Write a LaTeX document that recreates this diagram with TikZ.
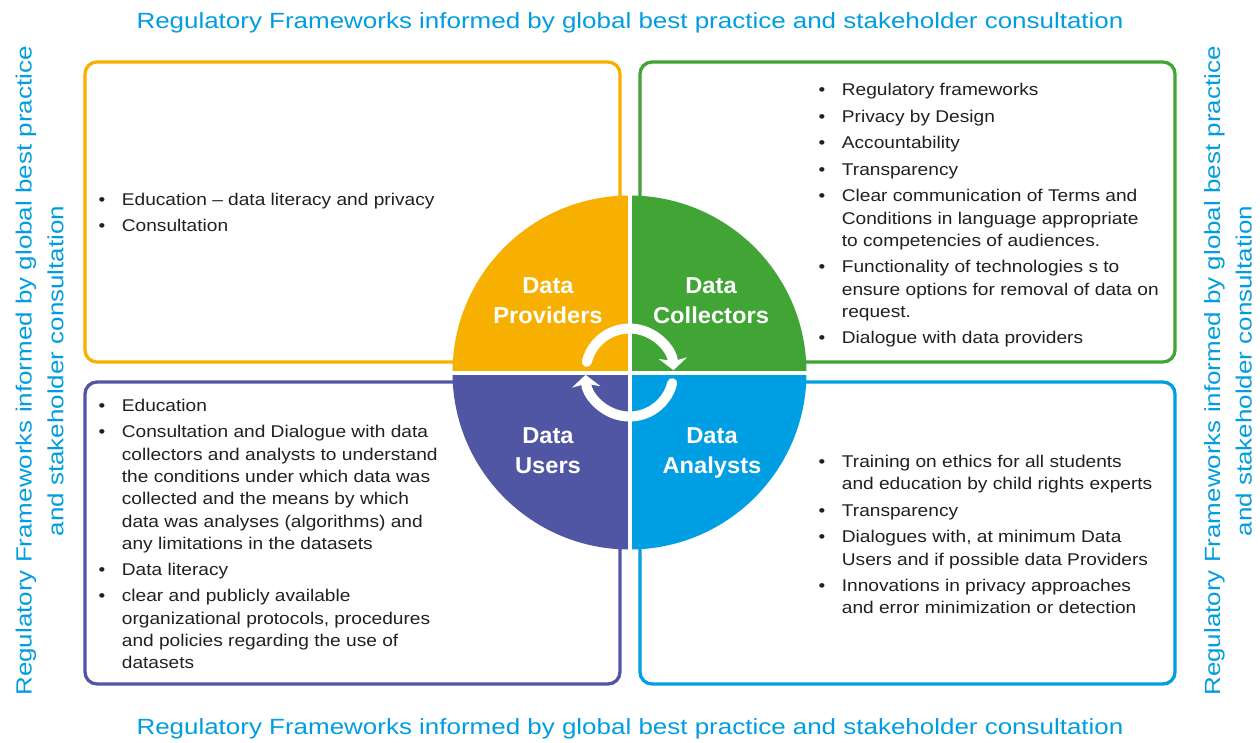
\documentclass[tikz,border=0pt]{standalone}
\usepackage{fontspec}
\setmainfont{Liberation Sans}
\newfontfamily\bodyfont[FakeStretch=1.125]{Liberation Sans}
\newfontfamily\framefont[FakeStretch=1.18]{Liberation Sans}
\newfontfamily\rolefont[FakeStretch=1.03]{Liberation Sans}
\usetikzlibrary{arrows.meta}

\definecolor{provider}{RGB}{248,176,0}
\definecolor{collector}{RGB}{64,165,53}
\definecolor{user}{RGB}{80,86,163}
\definecolor{analyst}{RGB}{0,159,227}
\definecolor{frametext}{RGB}{0,158,224}
\definecolor{bodytext}{RGB}{35,31,32}

% bullet lists with hanging indent and hand-set line breaks
\newlength\itemgap
\newcommand\bitem[1]{\par\hangindent=23.3pt\hangafter=1\noindent\makebox[23.3pt][l]{\textbullet}#1}
\newcommand\nextitem{\par\vskip\itemgap}
\newcommand\nl{\hfil\break}
\newcommand\itemblock[3]{\fontsize{17}{#1}\selectfont\setlength\itemgap{#2}%
  \vtop{\hsize=430pt\parindent=0pt\parskip=0pt\rightskip=0pt plus 1fil\relax #3\par}}

\begin{document}
\begin{tikzpicture}[x=1pt, y=-1pt,
  box/.style={draw, line width=3.3pt, rounded corners=12pt, minimum width=535pt, inner sep=0pt},
  bodytxt/.style={anchor=base west, inner sep=0pt, text=bodytext, font=\bodyfont},
  role/.style={anchor=base, inner sep=0pt, text=white, font=\rolefont\bfseries\fontsize{23}{30}\selectfont},
  frame/.style={anchor=base, inner sep=0pt, text=frametext, font=\framefont\fontsize{22}{31.6}\selectfont},
  divider/.style={white, line width=4pt},
  cyc/.style={white, line width=10pt, line cap=round, -{Stealth[length=12pt, width=28pt, inset=3pt]}}]

\useasboundingbox (0,0) rectangle (1260,742);
\fill[white] (0,0) rectangle (1260,742);

% four framed panels
\node[box, draw=provider, minimum height=300pt] (tlbox) at (352.5,212) {};
\node[box, draw=collector, minimum height=300pt] (trbox) at (907.5,212) {};
\node[box, draw=user, minimum height=302pt] (blbox) at (352.5,533) {};
\node[box, draw=analyst, minimum height=302pt] (brbox) at (907.5,533) {};

% central disc in four quadrants
\coordinate (c) at (629.5,372.5);
\fill[provider] (c) -- ([shift={(180:177)}]c) arc[start angle=180, end angle=270, radius=177] -- cycle;
\fill[collector] (c) -- ([shift={(270:177)}]c) arc[start angle=270, end angle=360, radius=177] -- cycle;
\fill[analyst] (c) -- ([shift={(0:177)}]c) arc[start angle=0, end angle=90, radius=177] -- cycle;
\fill[user] (c) -- ([shift={(90:177)}]c) arc[start angle=90, end angle=180, radius=177] -- cycle;
\draw[divider] ([shift={(0,-178)}]c) -- ([shift={(0,178)}]c);
\draw[divider] ([shift={(-178,0)}]c) -- ([shift={(178,0)}]c);

% clockwise cycle arrows
\draw[cyc] ([shift={(-166:44)}]c) arc[start angle=-166, end angle=-3, radius=44];
\draw[cyc] ([shift={(14:44)}]c) arc[start angle=14, end angle=177, radius=44];

% quadrant titles
\node[role] (prov) at (548,293.5) {\begin{tabular}[t]{@{}c@{}}Data\\Providers\end{tabular}};
\node[role] (coll) at (711,293.5) {\begin{tabular}[t]{@{}c@{}}Data\\Collectors\end{tabular}};
\node[role] (usr) at (548,443.3) {\begin{tabular}[t]{@{}c@{}}Data\\Users\end{tabular}};
\node[role] (anl) at (712,443.3) {\begin{tabular}[t]{@{}c@{}}Data\\Analysts\end{tabular}};

% surrounding frame captions
\node[frame] (ftop) at (630,28.3) {Regulatory Frameworks informed by global best practice and stakeholder consultation};
\node[frame] (fbot) at (630,734) {Regulatory Frameworks informed by global best practice and stakeholder consultation};
\node[frame, rotate=90] (fleft) at (31.7,371) {\begin{tabular}[t]{@{}c@{}}Regulatory Frameworks informed by global best practice\\and stakeholder consultation\end{tabular}};
\node[frame, rotate=90] (fright) at (1220,371) {\begin{tabular}[t]{@{}c@{}}Regulatory Frameworks informed by global best practice\\and stakeholder consultation\end{tabular}};

% panel contents
\node[bodytxt] (tltext) at (98.4,205) {\itemblock{22pt}{4pt}{%
  \bitem{Education – data literacy and privacy}\nextitem
  \bitem{Consultation}}};

\node[bodytxt] (trtext) at (818.4,95.7) {\itemblock{22.3pt}{4.2pt}{%
  \bitem{Regulatory frameworks}\nextitem
  \bitem{Privacy by Design}\nextitem
  \bitem{Accountability}\nextitem
  \bitem{Transparency}\nextitem
  \bitem{Clear communication of Terms and\nl Conditions in language appropriate\nl to competencies of audiences.}\nextitem
  \bitem{Functionality of technologies s to\nl ensure options for removal of data on\nl request.}\nextitem
  \bitem{Dialogue with data providers}}};

\node[bodytxt] (bltext) at (98.4,411.5) {\itemblock{22.3pt}{4pt}{%
  \bitem{Education}\nextitem
  \bitem{Consultation and Dialogue with data\nl collectors and analysts to understand\nl the conditions under which data was\nl collected and the means by which\nl data was analyses (algorithms) and\nl any limitations in the datasets}\nextitem
  \bitem{Data literacy}\nextitem
  \bitem{clear and publicly available\nl organizational protocols, procedures\nl and policies regarding the use of\nl datasets}}};

\node[bodytxt] (brtext) at (818.4,467.5) {\itemblock{22.3pt}{4.2pt}{%
  \bitem{Training on ethics for all students\nl and education by child rights experts}\nextitem
  \bitem{Transparency}\nextitem
  \bitem{Dialogues with, at minimum Data\nl Users and if possible data Providers}\nextitem
  \bitem{Innovations in privacy approaches\nl and error minimization or detection}}};

\end{tikzpicture}
\end{document}
